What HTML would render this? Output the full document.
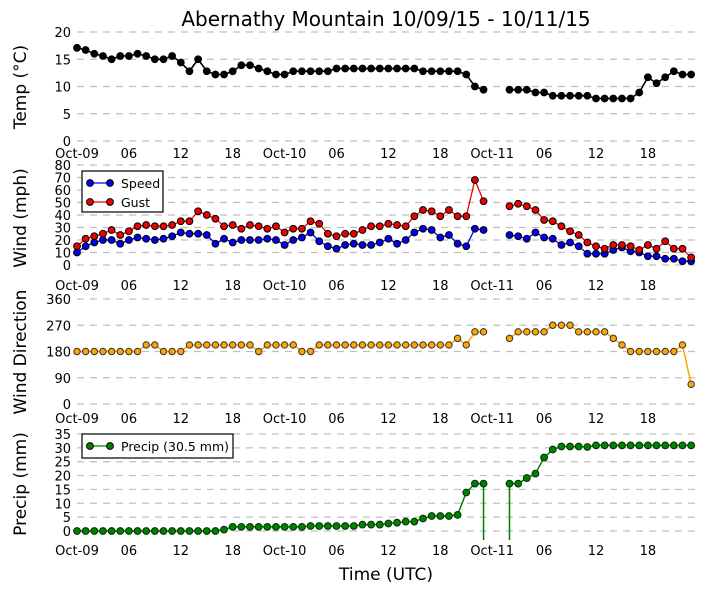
<!DOCTYPE html>
<html><head><meta charset="utf-8"><style>
html,body{margin:0;padding:0;background:#fff;width:705px;height:593px;overflow:hidden;}
svg{display:block;font-family:"DejaVu Sans","Liberation Sans",sans-serif;}
</style></head><body>
<svg id="chart" width="705" height="593">
</svg>
<script>
const hours = Array.from({length:72},(_,i)=>i);
const xTickHours = [0,6,12,18,24,30,36,42,48,54,60,66];
const xTickLabels = ["Oct-09","06","12","18","Oct-10","06","12","18","Oct-11","06","12","18"];
const N=null;
const temp = [17.1,16.7,16.0,15.6,15.0,15.6,15.6,16.0,15.6,15.0,15.0,15.6,14.4,12.8,15.0,12.8,12.2,12.2,12.8,13.9,13.9,13.3,12.8,12.2,12.2,12.8,12.8,12.8,12.8,12.8,13.3,13.3,13.3,13.3,13.3,13.3,13.3,13.3,13.3,13.3,12.8,12.8,12.8,12.8,12.8,12.2,10.0,9.4,N,N,9.4,9.4,9.4,8.9,8.9,8.3,8.3,8.3,8.3,8.3,7.8,7.8,7.8,7.8,7.8,8.9,11.7,10.6,11.7,12.8,12.2,12.2];
const speed = [10,15,18,20,20,17,20,22,21,20,21,23,26,25,25,24,17,21,18,20,20,20,21,20,16,20,22,26,19,15,13,16,17,16,16,18,21,17,20,26,29,28,22,24,17,15,29,28,N,N,24,23,21,26,22,21,16,18,15,9,9,9,12,14,11,10,7,7,5,5,3,3];
const gust = [15,21,23,25,28,24,27,31,32,31,31,32,35,35,43,40,37,31,32,29,32,31,29,31,26,29,29,35,33,25,23,25,25,28,31,31,33,32,31,39,44,43,39,44,39,39,68,51,N,N,47,49,47,44,36,35,31,27,24,18,15,13,16,16,15,12,16,13,19,13,13,6];
const dir = [180,180,180,180,180,180,180,180,202.5,202.5,180,180,180,202.5,202.5,202.5,202.5,202.5,202.5,202.5,202.5,180,202.5,202.5,202.5,202.5,180,180,202.5,202.5,202.5,202.5,202.5,202.5,202.5,202.5,202.5,202.5,202.5,202.5,202.5,202.5,202.5,202.5,225,202.5,247.5,247.5,N,N,225,247.5,247.5,247.5,247.5,270,270,270,247.5,247.5,247.5,247.5,225,202.5,180,180,180,180,180,180,202.5,67.5];
const precip = [0,0,0,0,0,0,0,0,0,0,0,0,0,0,0,0,0,0.5,1.5,1.5,1.5,1.5,1.5,1.5,1.5,1.5,1.5,1.8,1.8,1.8,1.8,1.8,1.8,2.3,2.3,2.3,2.7,3.0,3.4,3.4,4.5,5.4,5.4,5.4,5.8,13.9,17.1,17.1,-9999,-9999,17.1,17.1,19.1,20.7,26.5,29.4,30.5,30.5,30.5,30.3,30.9,30.9,30.9,30.9,30.9,30.9,30.9,30.9,30.9,30.9,30.9,30.9];
const tempTicks=[0,5,10,15,20], windTicks=[0,10,20,30,40,50,60,70,80], dirTicks=[0,90,180,270,360], precipTicks=[0,5,10,15,20,25,30,35];

const svg=document.getElementById('chart');
const NS='http://www.w3.org/2000/svg';
function mk(tag,attrs,parent){const e=document.createElementNS(NS,tag);for(const k in attrs)e.setAttribute(k,attrs[k]);(parent||svg).appendChild(e);return e;}
const X=h=>77+h*8.65;
function yScale(v0,y0,v1,y1){return v=>y0+(v-v0)*(y1-y0)/(v1-v0);}
const yT=yScale(0,141,20,32), yW=yScale(0,265,80,165), yD=yScale(0,404,360,299), yP=yScale(0,531,35,434);

function panel(name,ticks,ys,xlabY){
  const g=mk('g',{});
  
  
  ticks.forEach(t=>{
    const y=ys(t);
    const l=mk('line',{x1:77,x2:695,y1:y,y2:y,stroke:'#c0c0c0','stroke-width':1.2,'stroke-dasharray':'7,6'},g);
    
    
    const tx=mk('text',{x:71,y:y+5,'text-anchor':'end','font-size':13,fill:'#000'},g);
    tx.textContent=t;
    
    
  });
  xTickHours.forEach((h,i)=>{
    const tx=mk('text',{x:X(h),y:xlabY,'text-anchor':'middle','font-size':13,fill:'#000'},g);
    tx.textContent=xTickLabels[i];
    
    
  });
}
panel('temp',tempTicks,yT,158);
panel('wind',windTicks,yW,290);
panel('direction',dirTicks,yD,423);
panel('precip',precipTicks,yP,555);

function series(name,vals,ys,color,edge,lw,r,yMax){
  const g=mk('g',{});
  
  
  const lim=yMax||9999;
  let segs=[],cur=[];
  let prev=null;
  vals.forEach((v,i)=>{
    if(v===null){if(cur.length)segs.push(cur);cur=[];prev=null;return;}
    const p=[X(i),ys(v)];
    const inP=p[1]<=lim;
    if(prev){
      const inPrev=prev[1]<=lim;
      if(inPrev&&!inP){const t=(lim-prev[1])/(p[1]-prev[1]);cur.push([prev[0]+t*(p[0]-prev[0]),lim]);segs.push(cur);cur=[];}
      else if(!inPrev&&inP){const t=(lim-prev[1])/(p[1]-prev[1]);cur=[[prev[0]+t*(p[0]-prev[0]),lim]];}
    }
    if(inP)cur.push(p);
    prev=p;
  });
  if(cur.length)segs.push(cur);
  segs.forEach(s=>{
    const p=mk('polyline',{points:s.map(q=>q.join(',')).join(' '),fill:'none',stroke:color,'stroke-width':lw},g);
    
    
  });
  vals.forEach((v,i)=>{if(v===null||ys(v)>lim)return;
    const c=mk('circle',{cx:X(i),cy:ys(v),r:r,fill:color,stroke:edge,'stroke-width':1},g);
    
    
  });
}
series('temp',temp,yT,'#000','#000',1.6,3.4);
series('speed',speed,yW,'#0000ee','#000',1.3,3.4);
series('gust',gust,yW,'#ee0000','#000',1.3,3.4);
series('direction',dir,yD,'#ffa500','#333',1.5,3.2);
series('precip',precip,yP,'#008000','#003000',1.5,3.4,540);

function txt(s,attrs,name){const t=mk('text',attrs);t.textContent=s;return t;}
txt('Abernathy Mountain 10/09/15 - 10/11/15',{x:386,y:26,'text-anchor':'middle','font-size':20},'chart-title');
txt('Time (UTC)',{x:386,y:580,'text-anchor':'middle','font-size':17},'x-axis-title');
txt('Temp (°C)',{x:0,y:0,'text-anchor':'middle','font-size':17,transform:'translate(26,87) rotate(-90)'},'temp-y-axis-title');
txt('Wind (mph)',{x:0,y:0,'text-anchor':'middle','font-size':17,transform:'translate(26,218) rotate(-90)'},'wind-y-axis-title');
txt('Wind Direction',{x:0,y:0,'text-anchor':'middle','font-size':17,transform:'translate(26,352) rotate(-90)'},'direction-y-axis-title');
txt('Precip (mm)',{x:0,y:0,'text-anchor':'middle','font-size':17,transform:'translate(26,484) rotate(-90)'},'precip-y-axis-title');

function legend(name,x,y,w,h,items){
  const g=mk('g',{});
  
  
  mk('rect',{x:x,y:y,width:w,height:h,fill:'#fff',stroke:'#000','stroke-width':1.2},g);
  items.forEach((it,i)=>{
    const yy=y+12+i*19;
    mk('line',{x1:x+8,x2:x+28,y1:yy,y2:yy,stroke:it[1],'stroke-width':1.3},g);
    mk('circle',{cx:x+8,cy:yy,r:3.4,fill:it[1],stroke:'#000'},g);
    mk('circle',{cx:x+28,cy:yy,r:3.4,fill:it[1],stroke:'#000'},g);
    const t=mk('text',{x:x+39,y:yy+5,'font-size':12.5},g);t.textContent=it[0];
    
    
  });
}
legend('wind-legend',82,171,81,41,[['Speed','#0000ee'],['Gust','#ee0000']]);
legend('precip-legend',82,434,151,24,[['Precip (30.5 mm)','#008000']]);
</script>
</body></html>
